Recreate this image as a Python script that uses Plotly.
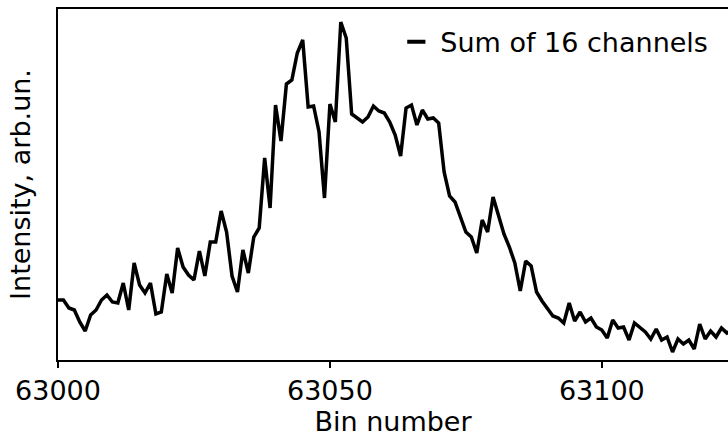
import plotly.graph_objects as go

# Bin numbers (x) and summed intensity (arb. units)
bins = list(range(63000, 63125))
intensity = [
    60, 60, 52, 50, 38, 29, 45, 50, 60, 65,
    58, 57, 77, 50, 97, 75, 67, 77, 46, 48,
    86, 67, 112, 93, 85, 80, 109, 84, 118, 118,
    149, 128, 84, 68, 110, 87, 123, 132, 202, 152,
    255, 219, 276, 280, 307, 320, 253, 254, 228, 162,
    256, 238, 338, 322, 246, 242, 238, 243, 254, 249,
    247, 238, 225, 204, 252, 255, 235, 250, 241, 242,
    237, 188, 164, 158, 142, 128, 123, 107, 140, 128,
    163, 145, 126, 113, 97, 69, 99, 94, 68, 59,
    52, 44, 42, 37, 57, 39, 48, 38, 42, 33,
    30, 22, 40, 32, 33, 20, 37, 33, 28, 21,
    31, 20, 23, 8, 21, 16, 20, 11, 36, 21,
    29, 23, 32, 27, 30,
]
x_ticks = [63000, 63050, 63100]
x_tick_labels = ["63000", "63050", "63100"]
series_name = "Sum of 16 channels"

FONT = "DejaVu Sans"

fig = go.Figure()
fig.add_trace(go.Scatter(
    x=bins, y=intensity, mode="lines",
    line=dict(color="black", width=3.5),
    showlegend=False, hoverinfo="skip",
))
# legend entry (short dash like the reference)
fig.add_trace(go.Scatter(
    x=[None], y=[None], mode="markers", name=series_name,
    marker=dict(symbol="line-ew", size=13, color="black",
                line=dict(width=4, color="black")),
))

fig.update_layout(
    width=728, height=441,
    margin=dict(l=58, r=0, t=9, b=81),
    paper_bgcolor="white", plot_bgcolor="white",
    font=dict(family=FONT, size=27, color="black"),
    legend=dict(x=0.499, y=0.975, xanchor="left", yanchor="top",
                itemwidth=38,
                bgcolor="rgba(0,0,0,0)", borderwidth=0,
                font=dict(family=FONT, size=27, color="black")),
)
fig.update_xaxes(
    range=[63000, 63123.2],
    tickvals=x_ticks, ticktext=x_tick_labels,
    ticks="outside", ticklen=6, tickwidth=1.5, tickcolor="black",
    showline=True, linecolor="black", linewidth=1.5, mirror=True,
    showgrid=False, zeroline=False,
    tickfont=dict(family=FONT, size=27, color="black"),
    title=dict(text="Bin number", font=dict(family=FONT, size=27, color="black"), standoff=6),
)
fig.update_yaxes(
    range=[0, 351],
    showticklabels=False, ticks="",
    showline=True, linecolor="black", linewidth=1.5, mirror=False,
    showgrid=False, zeroline=False,
    title=dict(text="Intensity, arb.un.", font=dict(family=FONT, size=27, color="black"), standoff=18),
)

fig.write_html("out.html")
